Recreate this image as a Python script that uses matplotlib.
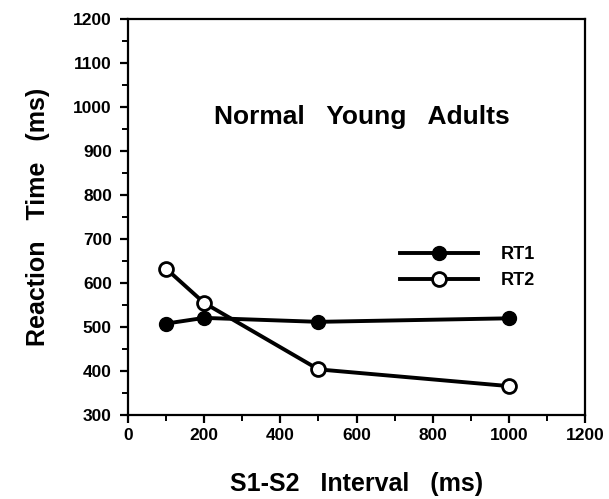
import numpy as np
import matplotlib
matplotlib.use('Agg')
import matplotlib.pyplot as plt
from matplotlib.ticker import MultipleLocator

plt.rcParams['font.family'] = ['Liberation Sans', 'DejaVu Sans']

# data
interval = [100, 200, 500, 1000]
rt1 = [508, 521, 512, 520]
rt2 = [633, 555, 404, 366]

x_ticks = [0, 200, 400, 600, 800, 1000, 1200]
y_ticks = [300, 400, 500, 600, 700, 800, 900, 1000, 1100, 1200]

fig = plt.figure(figsize=(6.09, 4.99), dpi=100)
ax = fig.add_axes([0.210, 0.168, 0.751, 0.794])

ax.plot(interval, rt1, color='black', linewidth=2.8, marker='o',
        markersize=10, markerfacecolor='black', markeredgecolor='black',
        label='RT1', zorder=3)
ax.plot(interval, rt2, color='black', linewidth=2.8, marker='o',
        markersize=10, markerfacecolor='white', markeredgecolor='black',
        markeredgewidth=2.0, label='RT2', zorder=4)

ax.set_xlim(0, 1200)
ax.set_ylim(300, 1200)
ax.set_xticks(x_ticks)
ax.set_yticks(y_ticks)
ax.xaxis.set_minor_locator(MultipleLocator(100))
ax.yaxis.set_minor_locator(MultipleLocator(50))
ax.tick_params(which='major', direction='out', length=6, width=1.6,
               labelsize=12.5, pad=3)
ax.tick_params(which='minor', direction='out', length=4, width=1.4)
ax.tick_params(axis='y', which='major', pad=5.5)
for lab in ax.get_xticklabels() + ax.get_yticklabels():
    lab.set_fontweight('bold')
for sp in ax.spines.values():
    sp.set_linewidth(1.6)

ax.set_xlabel('S1-S2   Interval   (ms)', fontsize=18, fontweight='bold')
ax.set_ylabel('Reaction   Time   (ms)', fontsize=18, fontweight='bold')
ax.xaxis.set_label_coords(0.5, -0.144)
ax.yaxis.set_label_coords(-0.171, 0.5)

ax.text(0.512, 0.753, 'Normal   Young   Adults', transform=ax.transAxes,
        ha='center', va='center', fontsize=19, fontweight='bold')

leg = ax.legend(loc='center', bbox_to_anchor=(0.743, 0.372), frameon=False,
                prop={'size': 13, 'weight': 'bold'}, handlelength=4.3,
                handletextpad=1.3, labelspacing=0.5)

plt.savefig('out.png', dpi=100)
